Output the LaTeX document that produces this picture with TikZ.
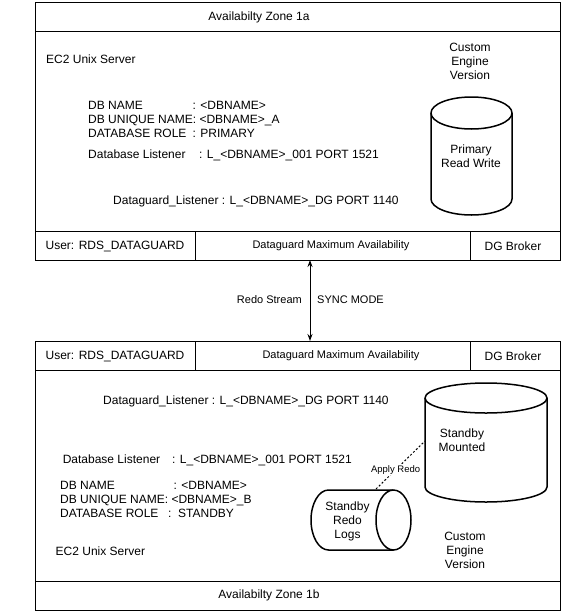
\documentclass[tikz,border=0pt]{standalone}
\usepackage{fontspec}
\setmainfont{Liberation Sans}
\usetikzlibrary{arrows.meta}
\begin{document}
\begin{tikzpicture}[x=1pt,y=-1pt,
  frame/.style={draw,line width=1pt},
  txt/.style={inner sep=0pt,font=\fontsize{12}{14}\selectfont},
  ltxt/.style={txt,anchor=mid west},
  ctxt/.style={txt,anchor=center,align=center},
  small/.style={inner sep=0pt,anchor=mid,font=\fontsize{11}{13}\selectfont},
  cyl/.style={draw,line width=1.5pt},
  dotline/.style={draw,line width=1pt,dash pattern=on 2pt off 2pt},
  arr/.style={draw,line width=1pt,{Stealth[length=7pt,width=5pt]}-{Stealth[length=7pt,width=5pt]}},
]
\useasboundingbox (0,0) rectangle (561,611);
% ---------- top zone ----------
\draw[frame] (35,2) rectangle (560,260);
\draw[frame] (35,31) -- (560,31);
\draw[frame] (35,231) -- (560,231);
\draw[frame] (195,231) -- (195,260);
\draw[frame] (470,231) -- (470,260);
\node[ctxt] (zoneA) at (259,17) {Availabilty Zone 1a};
\node[ltxt] (ec2A) at (46,61) {EC2 Unix Server};
\node[ctxt] (cevA) at (470,61) {Custom\\Engine\\Version};
\node[ltxt] (dbnA) at (88,107) {DB NAME};
\node[ltxt] (dbnvA) at (192.5,107) {: <DBNAME>};
\node[ltxt] (dbuA) at (88,121) {DB UNIQUE NAME: <DBNAME>\_A};
\node[ltxt] (dbrA) at (88,135) {DATABASE ROLE};
\node[ltxt] (dbrvA) at (192.5,135) {: PRIMARY};
\node[ltxt] (lsnA) at (88,156) {Database Listener};
\node[ltxt] (lsnvA) at (199,156) {: L\_<DBNAME>\_001 PORT 1521};
\node[ltxt] (dglA) at (113,202) {Dataguard\_Listener : L\_<DBNAME>\_DG PORT 1140};
% primary cylinder
\draw[cyl] (431,113) -- (431,199) arc[start angle=180,end angle=360,x radius=40.5pt,y radius=16pt]
  -- (512,113) arc[start angle=0,end angle=180,x radius=40.5pt,y radius=16pt] -- cycle;
\draw[cyl] (431,113) arc[start angle=180,end angle=360,x radius=40.5pt,y radius=16pt];
\node[ctxt] (prim) at (471,156) {Primary\\Read Write};
% top bar
\node[ctxt] (userA) at (115,246) {User: RDS\_DATAGUARD};
\node[small] (dgmaA) at (331,246) {Dataguard Maximum Availability};
\node[ctxt] (brkA) at (513,246) {DG Broker};
% ---------- link ----------
\coordinate (arrTop) at (310,260);
\coordinate (arrBot) at (310,341);
\draw[arr] (arrTop) -- (arrBot);
\node[small,anchor=mid east] (redo) at (302,301) {Redo Stream};
\node[small,anchor=mid west] (sync) at (317,301) {SYNC MODE};
% ---------- bottom zone ----------
\draw[frame] (35,341) rectangle (560,610);
\draw[frame] (35,370) -- (560,370);
\draw[frame] (35,581) -- (560,581);
\draw[frame] (195,341) -- (195,370);
\draw[frame] (470,341) -- (470,370);
\node[ctxt] (userB) at (115,356) {User: RDS\_DATAGUARD};
\node[small] (dgmaB) at (341,356) {Dataguard Maximum Availability};
\node[ctxt] (brkB) at (513,356) {DG Broker};
\node[ltxt] (dglB) at (103,402) {Dataguard\_Listener : L\_<DBNAME>\_DG PORT 1140};
\node[ltxt] (lsnB) at (62.6,461) {Database Listener};
\node[ltxt] (lsnvB) at (172,461) {: L\_<DBNAME>\_001 PORT 1521};
\node[ltxt] (dbnB) at (60,487) {DB NAME};
\node[ltxt] (dbnvB) at (173.5,487) {: <DBNAME>};
\node[ltxt] (dbuB) at (60,501) {DB UNIQUE NAME: <DBNAME>\_B};
\node[ltxt] (dbrB) at (60,515) {DATABASE ROLE};
\node[ltxt] (dbrvB) at (168,515) {:\ \ STANDBY};
\node[ltxt] (ec2B) at (55.5,553) {EC2 Unix Server};
\node[ctxt] (cevB) at (465,550) {Custom\\Engine\\Version};
\node[ctxt] (zoneB) at (269,595) {Availabilty Zone 1b};
% standby cylinder
\draw[cyl] (425,398) -- (425,487) arc[start angle=180,end angle=360,x radius=61pt,y radius=15pt]
  -- (547,398) arc[start angle=0,end angle=180,x radius=61pt,y radius=15pt] -- cycle;
\draw[cyl] (425,398) arc[start angle=180,end angle=360,x radius=61pt,y radius=15pt];
\node[ctxt] (stby) at (462,440) {Standby\\Mounted};
% standby redo logs (horizontal cylinder)
\draw[cyl] (328.5,490) -- (393.5,490) arc[start angle=90,end angle=-90,x radius=17.5pt,y radius=30pt]
  -- (328.5,550) arc[start angle=270,end angle=90,x radius=17.5pt,y radius=30pt] -- cycle;
\draw[cyl] (393.5,490) arc[start angle=90,end angle=270,x radius=17.5pt,y radius=30pt];
\node[ctxt] (srl) at (347.5,521) {Standby\\Redo\\Logs};
% apply redo
\coordinate (apStart) at (376,489);
\coordinate (apEnd) at (425,441);
\draw[dotline] (apStart) -- node[pos=0.4,fill=white,inner sep=1pt,font=\fontsize{9.5}{11}\selectfont] (apply) {Apply Redo} (apEnd);
\end{tikzpicture}
\end{document}
